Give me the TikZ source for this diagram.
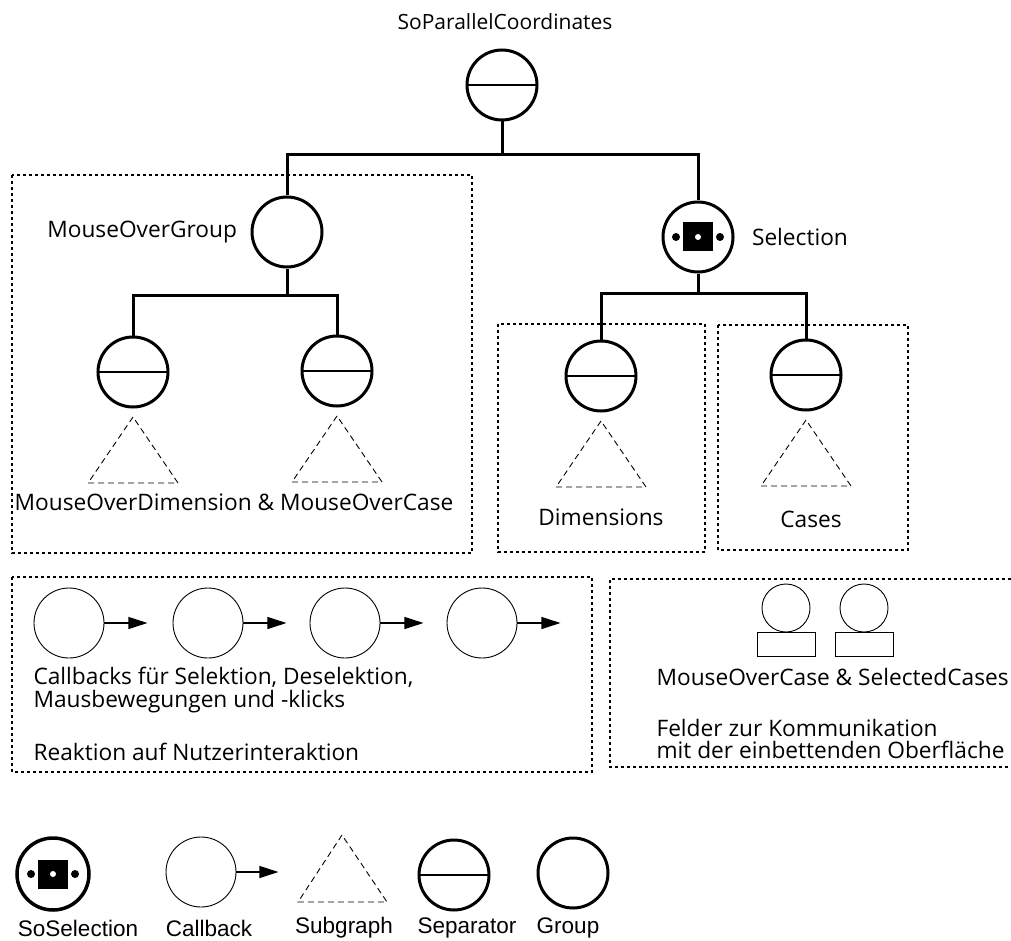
\documentclass[tikz,border=0pt]{standalone}
\usepackage{fontspec}
\setmainfont{Open Sans}
\newfontfamily\legendfont{Liberation Sans}
\usetikzlibrary{arrows.meta,calc}

\tikzset{
  every node/.style={font=\fontsize{22.7}{27}\selectfont},
  titletext/.style={font=\fontsize{21}{25}\selectfont},
  treeline/.style={line width=3pt},
  grp/.style={circle, draw, line width=3pt, minimum size=70pt, inner sep=0pt},
  sepn/.style={grp, path picture={\draw[line width=2.2pt]
      (path picture bounding box.west) -- (path picture bounding box.east);}},
  seln/.style={grp, path picture={
      \fill ($(path picture bounding box.center)+(-15,-14.5)$) rectangle ($(path picture bounding box.center)+(15,14.5)$);
      \fill[white] (path picture bounding box.center) circle (3pt);
      \fill ($(path picture bounding box.center)+(-22,0)$) circle (4pt);
      \fill ($(path picture bounding box.center)+(22,0)$) circle (4pt);}},
  subg/.style={line width=0.9pt, dash pattern=on 6pt off 4pt},
  grpbox/.style={line width=1.9pt, dash pattern=on 3pt off 3pt},
  cb/.style={circle, draw, line width=0.9pt, minimum size=70pt, inner sep=0pt},
  cbarrow/.style={line width=1.2pt, -{Triangle[length=19pt,width=12pt]}},
  fieldc/.style={circle, draw, line width=0.9pt, minimum size=48pt, inner sep=0pt},
  fieldr/.style={draw, line width=0.9pt, minimum width=58pt, minimum height=24pt, inner sep=0pt},
  legend/.style={font=\legendfont\fontsize{22.5}{26}\selectfont},
}

\newcommand\subgraphtri[1]{%
  \draw[subg] ($(#1)+(0,45)$) -- ++(-45,66) -- ++(90,0) -- cycle;}

\begin{document}
\begin{tikzpicture}[x=1pt,y=-1pt]
\useasboundingbox (0,0) rectangle (1011,941);

% ---- scene graph -------------------------------------------------------
\node[titletext] (title) at (505,22) {SoParallelCoordinates};
\node[sepn] (root) at (502,85) {};

\node[grp] (mog) at (287,232) {};
\node[anchor=east] (moglabel) at ($(mog.west)+(-10,0)$) {MouseOverGroup};

\node[seln] (sel) at (698,237) {};
\node[anchor=west] (sellabel) at ($(sel.east)+(14,0)$) {Selection};

\coordinate (bar0) at (502,155);
\draw[treeline] (root.south) -- (root.south |- bar0);
\draw[treeline] (mog.north) |- (sel.north |- bar0) -- (sel.north);

\node[sepn] (mod) at (133,372) {};
\node[sepn] (moc) at (337,371) {};
\coordinate (bar1) at (287,295);
\draw[treeline] (mog.south) -- (mog.south |- bar1);
\draw[treeline] (mod.north) |- (moc.north |- bar1) -- (moc.north);

\node[sepn] (dim) at (601,376) {};
\node[sepn] (cas) at (806,375) {};
\coordinate (bar2) at (698,293);
\draw[treeline] (sel.south) -- (sel.south |- bar2);
\draw[treeline] (dim.north) |- (cas.north |- bar2) -- (cas.north);

\subgraphtri{mod}
\subgraphtri{moc}
\subgraphtri{dim}
\subgraphtri{cas}

\node (molabel) at (234,502) {MouseOverDimension \& MouseOverCase};
\node (dimlabel) at (601,517) {Dimensions};
\node (caslabel) at (811,519) {Cases};

\draw[grpbox] (12,175) rectangle (472,553);
\draw[grpbox] (498,324) rectangle (705,552);
\draw[grpbox] (718,325) rectangle (908,550);

% ---- callbacks ---------------------------------------------------------
\draw[grpbox] (12,577) rectangle (592,772);
\foreach \i/\x in {1/69,2/208,3/345,4/482}{
  \node[cb] (cb\i) at (\x,623) {};
  \draw[cbarrow] (cb\i.east) -- ++(43,0);
}
\node[anchor=west] (cbt1) at (30,677) {Callbacks für Selektion, Deselektion,};
\node[anchor=west] (cbt2) at (30,702) {Mausbewegungen und -klicks};
\node[anchor=west] (cbt3) at (30,752) {Reaktion auf Nutzerinteraktion};

% ---- fields ------------------------------------------------------------
\draw[grpbox] (1011,579) -- (610,579) -- (610,767) -- (1011,767);
\node[fieldc] (f1c) at (786,608) {};
\node[fieldr] (f1r) at (786,644) {};
\node[fieldc] (f2c) at (864,608) {};
\node[fieldr] (f2r) at (864,644) {};
\node[anchor=west] (ft1) at (653,677) {MouseOverCase \& SelectedCases};
\node[anchor=west] (ft2) at (653,728) {Felder zur Kommunikation};
\node[anchor=west] (ft3) at (653,750) {mit der einbettenden Oberfläche};

% ---- legend ------------------------------------------------------------
\node[seln, line width=3.5pt, minimum size=72pt] (lsel) at (53,874) {};
\node[legend] (lselt) at (78,928) {SoSelection};
\node[cb] (lcb) at (201,872) {};
\draw[cbarrow] (lcb.east) -- ++(42,0);
\node[legend] (lcbt) at (209,928) {Callback};
\draw[subg] (342,835) -- (298,902) -- (387,902) -- cycle;
\node[legend] (lsubt) at (344,928) {Subgraph};
\node[sepn] (lsep) at (454,875) {};
\node[legend] (lsept) at (467,928) {Separator};
\node[grp] (lgrp) at (573,873) {};
\node[legend] (lgrpt) at (568,928) {Group};
\end{tikzpicture}
\end{document}
